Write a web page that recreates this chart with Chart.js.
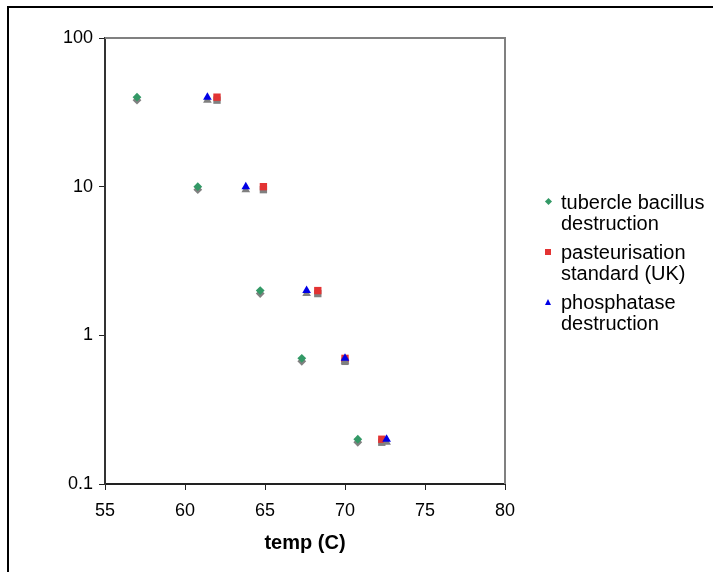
<!DOCTYPE html>
<html><head><meta charset="utf-8">
<script src="https://cdn.jsdelivr.net/npm/chart.js@4.4.0/dist/chart.umd.min.js"></script>
<style>
html,body{margin:0;padding:0;background:#fff;overflow:hidden;width:713px;height:572px;}
#frame{position:absolute;left:7px;top:6px;width:800px;height:700px;border:2px solid #000;box-sizing:border-box;}
#c{position:absolute;left:0;top:0;}
#legend{position:absolute;left:540px;top:191.5px;font-family:"Liberation Sans",Arial,sans-serif;font-size:20px;line-height:21px;color:#000;}
.item{position:relative;padding-left:21px;width:152px;margin-bottom:8px;}
.mk{position:absolute;}
</style>
</head><body>
<div id="frame"></div>
<canvas id="c" width="713" height="572"></canvas>
<div id="legend"></div>
<script>
// ---- data ----
const seriesLabels = ['tubercle bacillus destruction', 'pasteurisation standard (UK)', 'phosphatase destruction'];
const tempTB   = [57, 60.8, 64.7, 67.3, 70.8];
const timeTB   = [40, 10, 2, 0.7, 0.2];
const tempPast = [62, 64.9, 68.3, 70, 72.3];
const timePast = [40, 10, 2, 0.7, 0.2];
const tempPhos = [61.4, 63.8, 67.6, 70, 72.6];
const timePhos = [40, 10, 2, 0.7, 0.2];
const xTicks = [55, 60, 65, 70, 75, 80];
const yTicks = [0.1, 1, 10, 100];
const xTitle = 'temp (C)';

// ---- styles ----
const FONT = '"Liberation Sans", Arial, sans-serif';
const colors = ['#339966', '#e33333', '#0000e6'];
const styles = ['rectRot', 'rect', 'triangle'];
const radii = [4.4, 5.2, 5];

function pts(xs, ys) { return xs.map((x, i) => ({x: x, y: ys[i]})); }
const seriesData = [pts(tempTB, timeTB), pts(tempPast, timePast), pts(tempPhos, timePhos)];

const shadowPlugin = {
  id: 'markerShadow',
  beforeDatasetsDraw(chart) {
    const ctx = chart.ctx;
    ctx.save();
    ctx.shadowColor = 'rgba(128,128,128,1)';
    ctx.shadowOffsetX = 0;
    ctx.shadowOffsetY = 3;
    ctx.shadowBlur = 0;
  },
  afterDatasetsDraw(chart) { chart.ctx.restore(); }
};
const framePlugin = {
  id: 'plotFrame',
  afterDraw(chart) {
    const {ctx, chartArea: a} = chart;
    ctx.save();
    ctx.strokeStyle = '#808080';
    ctx.lineWidth = 2;
    ctx.beginPath();
    ctx.moveTo(a.left, a.top);
    ctx.lineTo(a.right, a.top);
    ctx.lineTo(a.right, a.bottom);
    ctx.stroke();
    ctx.restore();
  }
};

const tickFont = {family: FONT, size: 18};
new Chart(document.getElementById('c'), {
  type: 'scatter',
  data: {
    datasets: seriesData.map((d, i) => ({
      label: seriesLabels[i],
      data: d,
      pointStyle: styles[i],
      radius: radii[i],
      hoverRadius: radii[i],
      backgroundColor: colors[i],
      borderColor: colors[i],
      borderWidth: 0,
      order: 3 - i
    }))
  },
  options: {
    responsive: false,
    animation: false,
    events: [],
    layout: {padding: {top: 38, right: 208, left: 0, bottom: 0}},
    plugins: {legend: {display: false}, tooltip: {enabled: false}},
    scales: {
      x: {
        type: 'linear', min: 55, max: 80,
        afterBuildTicks: s => { s.ticks = xTicks.map(v => ({value: v})); },
        afterFit: s => { s.height = 88; },
        ticks: {color: '#000', font: tickFont, padding: 10, maxRotation: 0, autoSkip: false, callback: v => String(v)},
        grid: {drawOnChartArea: false, drawTicks: true, tickLength: 6, color: '#222', lineWidth: 1},
        border: {display: true, color: '#222', width: 2},
        title: {display: true, text: xTitle, color: '#000', font: {family: FONT, size: 20, weight: 'bold'}, padding: {top: 0, bottom: 17}}
      },
      y: {
        type: 'logarithmic', min: 0.1, max: 100,
        afterBuildTicks: s => { s.ticks = yTicks.map(v => ({value: v})); },
        afterFit: s => { s.width = 105; },
        ticks: {color: '#000', font: tickFont, padding: 6, autoSkip: false, callback: v => String(v)},
        grid: {drawOnChartArea: false, drawTicks: true, tickLength: 6, color: '#222', lineWidth: 1},
        border: {display: true, color: '#333', width: 2}
      }
    }
  },
  plugins: [shadowPlugin, framePlugin]
});

// ---- HTML legend ----
const legend = document.getElementById('legend');
seriesLabels.forEach((lab, i) => {
  const item = document.createElement('div');
  item.className = 'item';
  const mk = document.createElement('span');
  mk.className = 'mk';
  if (styles[i] === 'rectRot') {
    Object.assign(mk.style, {left: '5.5px', top: '7.7px', width: '5px', height: '5px', background: colors[i], transform: 'rotate(45deg)'});
  } else if (styles[i] === 'rect') {
    Object.assign(mk.style, {left: '5px', top: '7.2px', width: '6px', height: '6px', background: colors[i]});
  } else {
    Object.assign(mk.style, {left: '4.5px', top: '7.2px', width: '0', height: '0', borderLeft: '3.5px solid transparent', borderRight: '3.5px solid transparent', borderBottom: '6px solid ' + colors[i]});
  }
  item.appendChild(mk);
  item.appendChild(document.createTextNode(lab));
  legend.appendChild(item);
});
</script>
</body></html>
